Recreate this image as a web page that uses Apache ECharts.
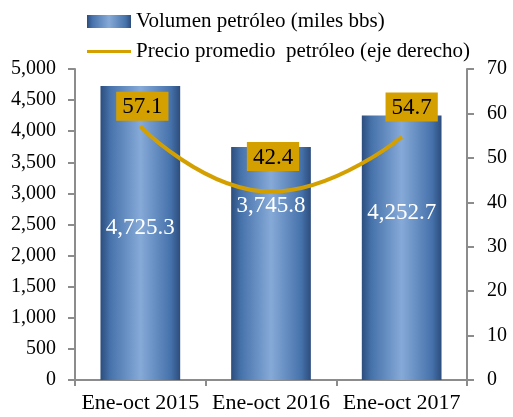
<!DOCTYPE html>
<html>
<head>
<meta charset="utf-8">
<script src="https://cdn.jsdelivr.net/npm/echarts@6/dist/echarts.min.js"></script>
<style>html,body{margin:0;padding:0;background:#fff}#c{width:513px;height:417px}</style>
</head>
<body>
<div id="c"></div>
<script>
const categories = ['Ene-oct 2015', 'Ene-oct 2016', 'Ene-oct 2017'];
const volumen = [4725.3, 3745.8, 4252.7];
const precio = [57.1, 42.4, 54.7];
const leftTicks = { min: 0, max: 5000, interval: 500 };
const rightTicks = { min: 0, max: 70, interval: 10 };

const FONT = '"Liberation Serif", "DejaVu Serif", serif';
const GOLD = '#d4a000';
const AXIS = '#8c8c8c';

const barLabelOffsets = [[0, -5], [0, -58], [0, -35]];
const lineLabelOffsets = [[2, 0], [2, -15], [10, -10]];

const fmt = v => v.toLocaleString('en-US', { minimumFractionDigits: 1, maximumFractionDigits: 1 });

const barGrad = {
  type: 'linear', x: 0, y: 0, x2: 1, y2: 0,
  colorStops: [
    { offset: 0, color: '#2c4d7c' },
    { offset: 0.12, color: '#4672ab' },
    { offset: 0.5, color: '#86aad8' },
    { offset: 0.88, color: '#4672ab' },
    { offset: 1, color: '#2c4d7c' }
  ]
};

const chart = echarts.init(document.getElementById('c'));
chart.setOption({
  animation: false,
  textStyle: { fontFamily: FONT },
  legend: {
    orient: 'vertical', left: 82, top: 6, itemGap: 9,
    itemWidth: 44, itemHeight: 13,
    textStyle: { fontFamily: FONT, fontSize: 21, color: '#000', lineHeight: 20 },
    data: [
      { name: 'Volumen petróleo (miles bbs)', icon: 'rect' },
      { name: 'Precio promedio  petróleo (eje derecho)', icon: 'path://M0,5 L44,5 L44,8 L0,8 Z' }
    ]
  },
  grid: { left: 75, right: 46, top: 69, bottom: 37 },
  xAxis: {
    type: 'category', data: categories,
    axisLine: { lineStyle: { color: AXIS, width: 2 } },
    axisTick: { show: true, length: 6, lineStyle: { color: AXIS, width: 2 } },
    axisLabel: { color: '#000', fontFamily: FONT, fontSize: 22, margin: 12, interval: 0 }
  },
  yAxis: [
    {
      type: 'value', min: leftTicks.min, max: leftTicks.max, interval: leftTicks.interval,
      axisLine: { show: true, lineStyle: { color: AXIS, width: 2 } },
      axisTick: { show: true, length: 7, lineStyle: { color: AXIS, width: 2 } },
      splitLine: { show: false },
      axisLabel: { color: '#000', fontFamily: FONT, fontSize: 20, margin: 19,
        formatter: v => v.toLocaleString('en-US') }
    },
    {
      type: 'value', min: rightTicks.min, max: rightTicks.max, interval: rightTicks.interval,
      axisLine: { show: true, lineStyle: { color: AXIS, width: 2 } },
      axisTick: { show: true, length: 7, lineStyle: { color: AXIS, width: 2 } },
      splitLine: { show: false },
      axisLabel: { color: '#000', fontFamily: FONT, fontSize: 20, margin: 20 }
    }
  ],
  series: [
    {
      name: 'Volumen petróleo (miles bbs)', type: 'bar', yAxisIndex: 0,
      barWidth: '61%',
      itemStyle: { color: barGrad },
      data: volumen.map((v, i) => ({
        value: v,
        label: { offset: barLabelOffsets[i] }
      })),
      label: {
        show: true, position: 'inside', color: '#fff', fontFamily: FONT, fontSize: 23,
        formatter: p => fmt(p.value)
      }
    },
    {
      name: 'Precio promedio  petróleo (eje derecho)', type: 'line', yAxisIndex: 1,
      smooth: true, showSymbol: true, symbol: 'circle', symbolSize: 1,
      lineStyle: { color: GOLD, width: 4 },
      itemStyle: { color: GOLD },
      data: precio.map((v, i) => ({
        value: v,
        label: { offset: lineLabelOffsets[i] }
      })),
      label: {
        show: true, position: 'top', distance: 5,
        color: '#000', fontFamily: FONT, fontSize: 23,
        backgroundColor: GOLD, padding: [4, 6, 2, 6],
        formatter: p => p.value.toFixed(1)
      },
      z: 5
    }
  ]
});
</script>
</body>
</html>
